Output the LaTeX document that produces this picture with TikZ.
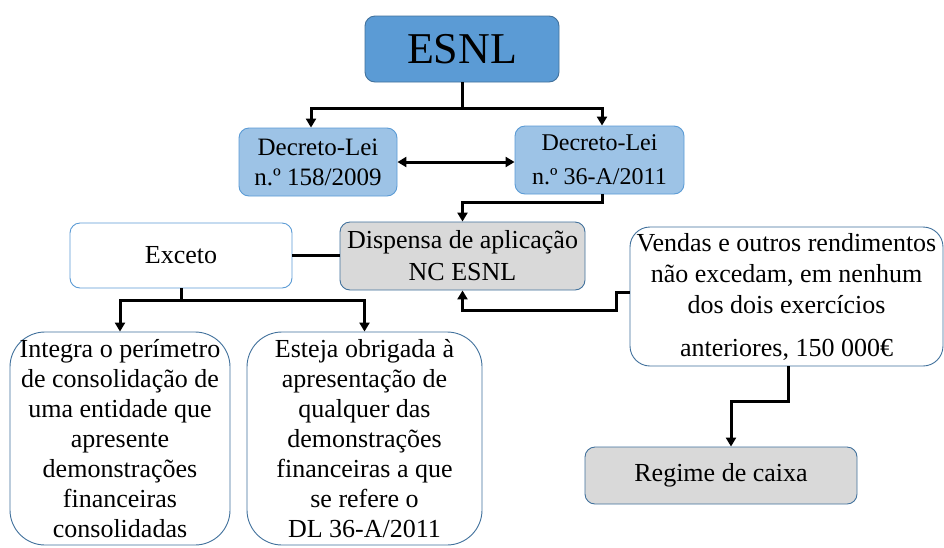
\documentclass[tikz,border=0pt]{standalone}
\usepackage{fontspec}
\setmainfont{Liberation Serif}
\usetikzlibrary{arrows.meta}
\definecolor{esnlfill}{RGB}{91,155,213}
\definecolor{dlfill}{RGB}{157,195,230}
\definecolor{grayfill}{RGB}{217,217,217}
\definecolor{darkbord}{RGB}{65,113,156}
\definecolor{lightbord}{RGB}{91,155,213}
\tikzset{
  box/.style={draw=darkbord, line width=0.9pt, rounded corners=10pt, align=center,
    inner sep=2pt, font=\fontsize{26}{30.5}\selectfont},
  conn/.style={line width=3pt, -{Triangle[length=9pt,width=10pt]}},
  dconn/.style={line width=3pt, {Triangle[length=9pt,width=10pt]}-{Triangle[length=9pt,width=10pt]}},
  plain/.style={line width=3pt}
}
\begin{document}
\begin{tikzpicture}[x=1pt,y=-1pt]
\useasboundingbox (0,0) rectangle (944,547);
\clip (0,0) rectangle (944,547);
\fill[white] (0,0) rectangle (944,547);

\node[box, fill=esnlfill, minimum width=194pt, minimum height=66pt, font=\fontsize{44}{48}\selectfont] (esnl) at (462,49) {ESNL};
\node[box, fill=dlfill, draw=lightbord, minimum width=158pt, minimum height=68pt, font=\fontsize{25}{30}\selectfont] (dlA) at (318,162) {Decreto-Lei\\n.º 158/2009};
\node[box, fill=dlfill, draw=lightbord, minimum width=169pt, minimum height=68pt, font=\fontsize{24}{34}\selectfont] (dlB) at (599.5,160) {Decreto-Lei\\n.º 36-A/2011};
\node[box, fill=grayfill, minimum width=245pt, minimum height=68pt, font=\fontsize{26}{32}\selectfont] (disp) at (462.5,256) {Dispensa de aplicação\\NC ESNL};
\node[box, fill=white, draw=lightbord, minimum width=222pt, minimum height=65pt] (exc) at (181,255.5) {Exceto};
\node[box, fill=white, rounded corners=35pt, minimum width=220pt, minimum height=213pt, font=\fontsize{26}{30}\selectfont] (integ) at (120,438.5) {Integra o perímetro\\de consolidação de\\uma entidade que\\apresente\\demonstrações\\financeiras\\consolidadas};
\node[box, fill=white, rounded corners=35pt, minimum width=235pt, minimum height=213pt, font=\fontsize{26}{30}\selectfont] (est) at (364.5,438.5) {Esteja obrigada à\\apresentação de\\qualquer das\\demonstrações\\financeiras a que\\se refere o\\DL 36-A/2011};
\node[box, fill=white, rounded corners=20pt, minimum width=313pt, minimum height=139pt, font=\fontsize{26}{31}\selectfont] (vend) at (786.5,296.5) {Vendas e outros rendimentos\\não excedam, em nenhum\\dos dois exercícios\\[12pt]anteriores, 150 000€};
\node[box, fill=grayfill, minimum width=272pt, minimum height=57pt] (reg) at (721,475.5) {Regime de caixa};

\draw[conn] (esnl.south) -- ++(0,26) -| ([xshift=-7pt]dlA.north);
\draw[conn] (esnl.south) -- ++(0,26) -| ([xshift=2.5pt]dlB.north);
\draw[dconn] (dlA.east) -- (dlB.west |- dlA.east);
\draw[conn] ([xshift=2.5pt]dlB.south) -- ++(0,8) -| (disp.north);
\draw[plain] (exc.east) -- (disp.west |- exc.east);
\draw[conn] (exc.south) -- ++(0,12) -| (integ.north);
\draw[conn] (exc.south) -- ++(0,12) -| (est.north);
\draw[conn] ([yshift=4pt]vend.west) -- ++(-13,0) -- ++(0,18) -| (disp.south);
\draw[conn] ([xshift=1.5pt]vend.south) -- ++(0,35) -| ([xshift=10pt]reg.north);
\end{tikzpicture}
\end{document}
